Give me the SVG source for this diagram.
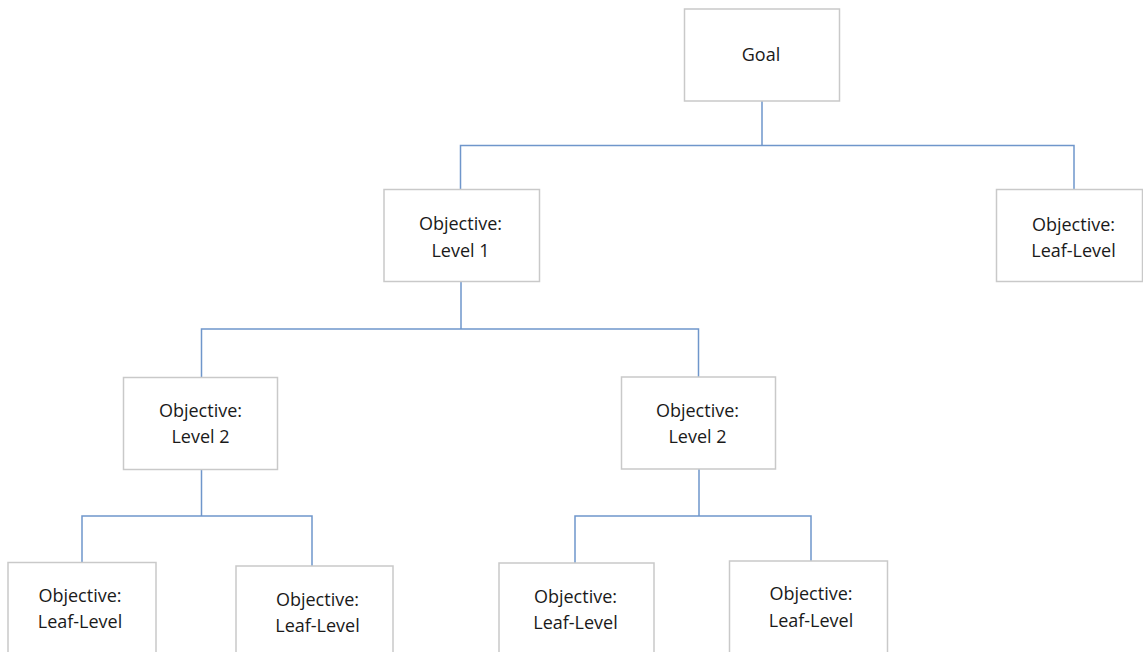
<svg xmlns="http://www.w3.org/2000/svg" width="1143" height="652" viewBox="0 0 1143 652">
<style>
.box{fill:#ffffff;stroke:#c9c9c9;stroke-width:1.5}
.t{font-family:"Open Sans","Liberation Sans",sans-serif;font-size:18px;fill:#1a1a1a;text-anchor:middle}
.c{fill:none;stroke:#6f96cb;stroke-width:1.5}
</style>
<rect width="1143" height="652" fill="#ffffff"/>
<g id="connectors">
<path class="c" d="M762 101V145.5M460.5 189V145.5H1074V189"/>
<path class="c" d="M461 282V329M201.5 377V329H698.5V377"/>
<path class="c" d="M201.5 469V516M82 562V516H312V566"/>
<path class="c" d="M699 469V516M575 563V516H811V561"/>
</g>
<g id="goal"><rect class="box" x="684.5" y="9" width="155" height="92"/><text class="t" x="761" y="61">Goal</text></g>
<g id="level1"><rect class="box" x="384" y="189.5" width="155.5" height="92"/><text class="t" x="460.5" y="230">Objective:</text><text class="t" x="460.5" y="257">Level 1</text></g>
<g id="leafTop"><rect class="box" x="996.5" y="189.5" width="146" height="92"/><text class="t" x="1073.5" y="230.5">Objective:</text><text class="t" x="1073.5" y="256.5">Leaf-Level</text></g>
<g id="level2a"><rect class="box" x="123.5" y="377.5" width="154" height="92"/><text class="t" x="200.5" y="416.5">Objective:</text><text class="t" x="200.5" y="443">Level 2</text></g>
<g id="level2b"><rect class="box" x="621.5" y="377" width="154" height="92"/><text class="t" x="697.5" y="416.5">Objective:</text><text class="t" x="697.5" y="443">Level 2</text></g>
<g id="leaf1"><rect class="box" x="8" y="562.5" width="148" height="100"/><text class="t" x="80" y="601.5">Objective:</text><text class="t" x="80" y="628">Leaf-Level</text></g>
<g id="leaf2"><rect class="box" x="236" y="566" width="157" height="100"/><text class="t" x="317.5" y="606">Objective:</text><text class="t" x="317.5" y="632">Leaf-Level</text></g>
<g id="leaf3"><rect class="box" x="499" y="563" width="155" height="100"/><text class="t" x="575.5" y="602.5">Objective:</text><text class="t" x="575.5" y="629">Leaf-Level</text></g>
<g id="leaf4"><rect class="box" x="729.5" y="561" width="158" height="100"/><text class="t" x="811" y="600">Objective:</text><text class="t" x="811" y="626.5">Leaf-Level</text></g>
</svg>
